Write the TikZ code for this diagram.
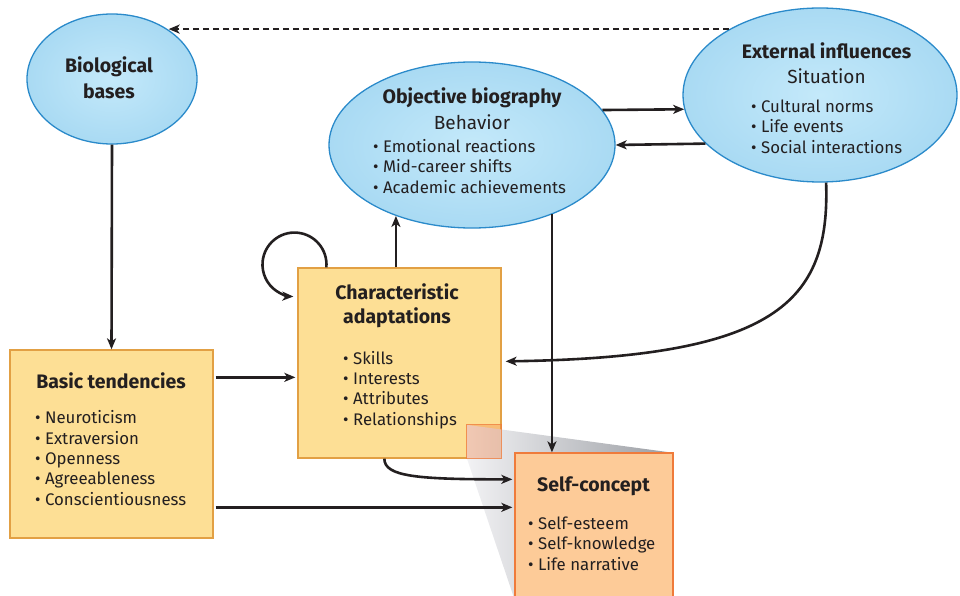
\documentclass[tikz,border=0pt]{standalone}
\usepackage{fontspec}
\setmainfont{Fira Sans}
\usetikzlibrary{shapes.geometric,arrows.meta,calc}
\definecolor{ellin}{HTML}{C4E9FA}
\definecolor{ellout}{HTML}{A9DAF3}
\definecolor{ellborder}{HTML}{2A8ACA}
\definecolor{boxfill}{HTML}{FDDF95}
\definecolor{boxborder}{HTML}{E2A044}
\definecolor{selffill}{HTML}{FDCB98}
\definecolor{selfborder}{HTML}{EF7B3B}
\definecolor{ink}{HTML}{231F20}
\definecolor{greyA}{HTML}{F2F2F4}
\definecolor{greyB}{HTML}{9A9DA3}
\tikzset{
  ell/.style={ellipse, draw=ellborder, line width=1.3pt, inner color=ellin, outer color=ellout, inner sep=0pt},
  ybox/.style={rectangle, draw=boxborder, fill=boxfill, line width=1.3pt, inner sep=0pt},
  sbox/.style={rectangle, draw=selfborder, fill=selffill, line width=1.3pt, inner sep=0pt},
  ttl/.style={font=\fontsize{19.5}{26}\selectfont\bfseries, text=ink, inner sep=0pt, anchor=base, align=center},
  sub/.style={font=\fontsize{19}{26}\selectfont, text=ink, inner sep=0pt, anchor=base},
  items/.style={font=\fontsize{16.8}{20.3}\selectfont, text=ink, inner sep=0pt, anchor=base west, align=left},
  arr/.style={draw=ink, line width=2.6pt, -{Stealth[length=11pt,width=9pt,inset=3pt]}},
  darr/.style={arr, dash pattern=on 6pt off 4pt}
}
\begin{document}
\begin{tikzpicture}[x=1pt,y=-1pt]
\useasboundingbox (0,0) rectangle (960,596);
% ellipses
\node[ell, minimum width=170pt, minimum height=130pt] (bio) at (112,79) {};
\node[ell, minimum width=286pt, minimum height=166pt] (obj) at (472,145) {};
\node[ell, minimum width=274pt, minimum height=174pt] (ext) at (820,95) {};
% boxes
\node[ybox, minimum width=203pt, minimum height=188pt] (basic) at (111.5,444) {};
\node[ybox, minimum width=203pt, minimum height=190pt] (char) at (399.5,363) {};
% zoom lens
\node[rectangle, minimum width=34pt, minimum height=33pt, inner sep=0pt] (lens) at (484,441.5) {};
\node[rectangle, minimum width=158pt, minimum height=147pt, inner sep=0pt] (selfarea) at (594,526.5) {};
\path[left color=greyA, right color=greyB] (lens.north west) -- (selfarea.north east) -- (selfarea.south east) -- (selfarea.south west) -- (lens.south west) -- cycle;
\path[fill=selfborder, fill opacity=0.35, draw=selfborder, draw opacity=0.8, line width=1pt] (lens.north west) rectangle (lens.south east);
\node[sbox, minimum width=158pt, minimum height=147pt] (self) at (594,526.5) {};
% texts
\node[ttl] (biot) at (109,99) {Biological\\bases};
\node[ttl] (objt) at (472,104) {Objective biography};
\node[sub] (objs) at (472,130) {Behavior};
\node[items] (obji) at (373,193.3) {• Emotional reactions\\• Mid-career shifts\\• Academic achievements};
\node[ttl] (extt) at (826.5,58.3) {External influences};
\node[sub] (exts) at (826.5,83.3) {Situation};
\node[items] (exti) at (751,153.3) {• Cultural norms\\• Life events\\• Social interactions};
\node[ttl, font=\fontsize{19.5}{24}\selectfont\bfseries] (chart) at (397,323) {Characteristic\\adaptations};
\node[items] (chari) at (343,425) {• Skills\\• Interests\\• Attributes\\• Relationships};
\node[ttl] (basict) at (111,388.3) {Basic tendencies};
\node[items] (basici) at (35,505) {• Neuroticism\\• Extraversion\\• Openness\\• Agreeableness\\• Conscientiousness};
\node[ttl] (selft) at (593.5,491.7) {Self-concept};
\node[items] (selfi) at (528,570) {• Self-esteem\\• Self-knowledge\\• Life narrative};
% connectors
\draw[darr] (ext.144.5) -- (ext.144.5 -| bio.41);
\draw[arr] (bio.south) -- (basic.north);
\draw[arr] ($(basic.north east)+(2,28)$) -- ($(char.north west)+(-2,110)$);
\draw[arr] ($(basic.north east)+(2,158)$) -- ($(self.north west)+(-2,55)$);
\draw[arr] (char.north -| obj.-137.3) -- (obj.-137.3);
\draw[arr] (obj.-41.7) -- (obj.-41.7 |- self.north);
\draw[arr] (obj.15.1) -- (ext.186.3);
\draw[arr] (ext.203.4) -- (obj.0.4);
\draw[arr] ($(char.south west)+(87,0)$) .. controls +(0,18) and +(-95,0) .. ($(self.north west)+(-2,27)$);
\draw[arr] (ext.-86) .. controls +(4,120) and +(270,-4) .. ($(char.north east)+(4,-1)+(0,95)$);
\coordinate (loopstart) at ($(char.north west)+(29,0)$);
\draw[arr] (loopstart) arc[start angle=5, end angle=-268, radius=32];
\end{tikzpicture}
\end{document}
